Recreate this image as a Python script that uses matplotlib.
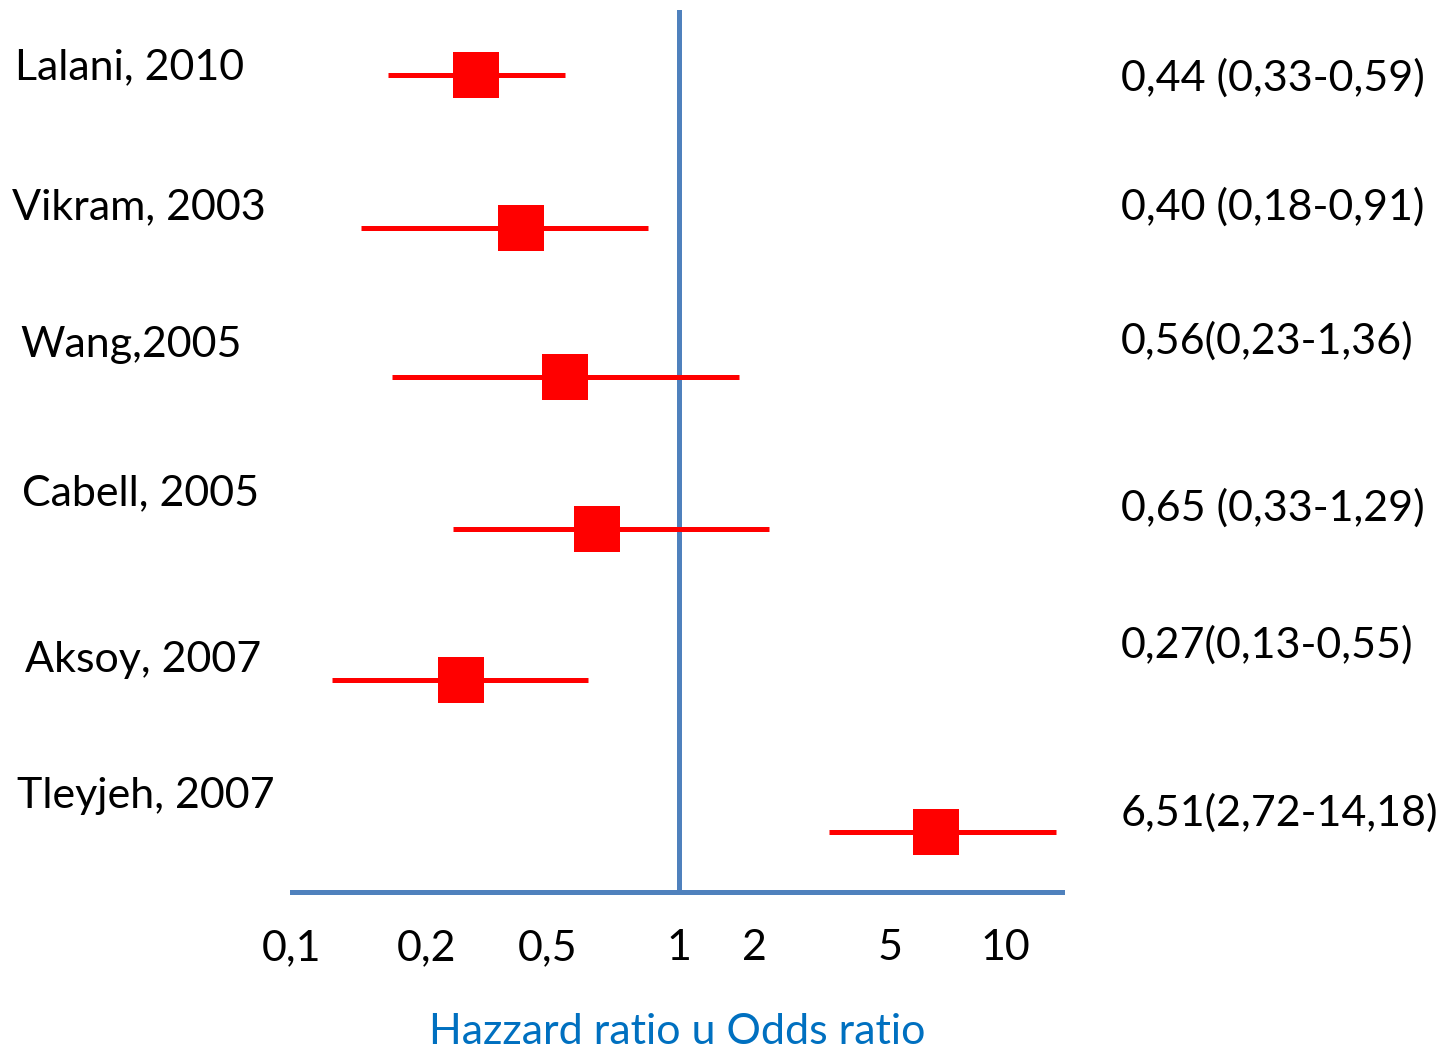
import numpy as np
import matplotlib
matplotlib.use("Agg")
import matplotlib.pyplot as plt
import matplotlib.transforms as mtransforms

plt.rcParams['font.family'] = ['Lato', 'DejaVu Sans']

# studies, top to bottom
studies = ["Lalani, 2010", "Vikram, 2003", "Wang,2005",
           "Cabell, 2005", "Aksoy, 2007", "Tleyjeh, 2007"]
summary = ["0,44 (0,33-0,59)", "0,40 (0,18-0,91)", "0,56(0,23-1,36)",
           "0,65 (0,33-1,29)", "0,27(0,13-0,55)", "6,51(2,72-14,18)"]

# values
est = [0.29, 0.41, 0.55, 0.65, 0.26, 6.6]
lo = [0.164, 0.143, 0.167, 0.245, 0.123, 3.3]
hi = [0.55, 0.85, 1.73, 2.2, 0.62, 13.6]
row_y = [5.56, 4.52, 3.50, 2.47, 1.44, 0.41]
name_y = [5.61, 4.66, 3.72, 2.71, 1.58, 0.65]
summ_y = [5.54, 4.66, 3.75, 2.61, 1.68, 0.54]
name_x = [0.0103, 0.0083, 0.0138, 0.0151, 0.0172, 0.0117]

# the drawn axis is not a true log axis: tick spacing as printed
ticks = [0.1, 0.2, 0.5, 1, 2, 5, 10]
tick_labels = ["0,1", "0,2", "0,5", "1", "2", "5", "10"]
tick_pos = [0, 135, 256, 388, 464, 600, 715]

anch = np.log10([0.05] + ticks + [20])
apos = np.array([-135] + tick_pos + [830], dtype=float)


def fwd(x):
    x = np.clip(np.asarray(x, dtype=float), 1e-6, None)
    return np.interp(np.log10(x), anch, apos)


def inv(p):
    return 10 ** np.interp(np.asarray(p, dtype=float), apos, anch)


blue = "#4F81BD"
red = "#FF0000"
fs = 31

fig = plt.figure(figsize=(14.54, 10.51), dpi=100)
ax = fig.add_axes([0.2008, 0.1513, 0.5296, 0.8392])
ax.set_xscale('function', functions=(fwd, inv))
ax.set_xlim(0.1, 14.1)
ax.set_ylim(0, 6.0)

ax.axvline(1, color=blue, lw=3.6, zorder=1)
ax.hlines(row_y, lo, hi, color=red, lw=3.6, zorder=2)
ax.plot(est, row_y, ls='none', marker='s', ms=33, color=red,
        markeredgewidth=0, zorder=3)

for s in ['top', 'right', 'left']:
    ax.spines[s].set_visible(False)
ax.spines['bottom'].set_color(blue)
ax.spines['bottom'].set_linewidth(3.6)
ax.set_yticks([])
ax.xaxis.set_minor_locator(matplotlib.ticker.NullLocator())
ax.set_xticks(ticks)
ax.set_xticklabels(tick_labels, fontsize=fs)
ax.tick_params(axis='x', length=0, pad=27)
ax.set_xlabel("Hazzard ratio u Odds ratio", fontsize=fs, color="#0070C0",
              labelpad=33)

trans = mtransforms.blended_transform_factory(fig.transFigure, ax.transData)
for name, nx, ny in zip(studies, name_x, name_y):
    ax.text(nx, ny, name, transform=trans, fontsize=fs, va='center',
            ha='left', clip_on=False)
for txt, ty in zip(summary, summ_y):
    ax.text(0.771, ty, txt, transform=trans, fontsize=fs, va='center',
            ha='left', clip_on=False)

fig.savefig("out.png", dpi=100)
